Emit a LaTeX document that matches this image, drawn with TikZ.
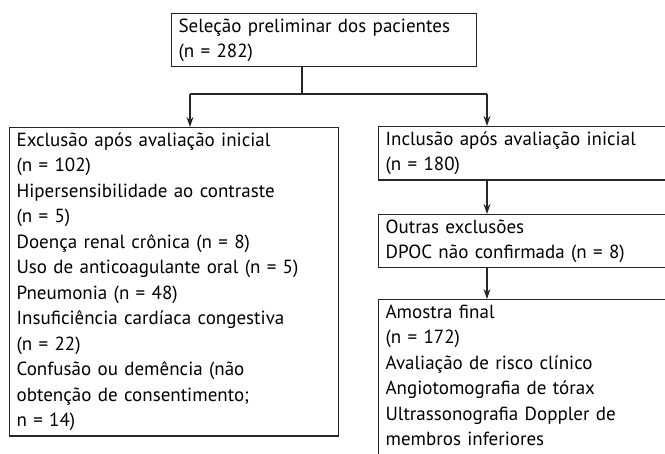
\documentclass[tikz,border=0pt]{standalone}
\usepackage{fontspec}
\setmainfont{PT Sans}[WordSpace=1.3]
\usetikzlibrary{arrows.meta}

\tikzset{
  box/.style={draw=black!85, line width=1.2pt, anchor=north west, align=left,
    inner xsep=7pt, inner ysep=5pt, font=\fontsize{19}{25.5}\selectfont},
  link/.style={line width=1.2pt, draw=black!85},
  flow/.style={link, -{Stealth[length=10pt,width=7pt]}}
}

\begin{document}
\begin{tikzpicture}[x=1pt,y=1pt]

  \useasboundingbox (0,0) rectangle (665,-454);
  \clip (0,0) rectangle (665,-454);

  % boxes
  \node[box, text width=291pt] (sel)   at (171,-13)  {Seleção preliminar dos pacientes\\(n = 282)};
  \node[box, text width=315pt] (excl)  at (9,-127)   {Exclusão após avaliação inicial\\(n = 102)\\Hipersensibilidade ao contraste\\(n = 5)\\Doença renal crônica (n = 8)\\Uso de anticoagulante oral (n = 5)\\Pneumonia (n = 48)\\Insuficiência cardíaca congestiva\\(n = 22)\\Confusão ou demência (não\\obtenção de consentimento;\\n = 14)};
  % right column runs off the page
  \node[box, text width=400pt] (incl)  at (378,-126) {Inclusão após avaliação inicial\\(n = 180)};
  \node[box, text width=400pt] (outr)  at (378,-214) {Outras exclusões\\DPOC não confirmada (n = 8)};
  \node[box, text width=400pt] (final) at (378,-299) {Amostra final\\(n = 172)\\Avaliação de risco clínico\\Angiotomografia de tórax\\Ultrassonografia Doppler de\\membros inferiores\rule[-20pt]{0pt}{20pt}};

  % split below the first box
  \coordinate (bus) at (302,-94);
  \coordinate (lb)  at (190,-94);
  \coordinate (rb)  at (487,-94);

  \draw[link] (bus |- sel.south) -- (bus);
  \draw[link] (lb) -- (rb);
  \draw[flow] (lb) -- (lb |- excl.north);
  \draw[flow] (rb) -- (rb |- incl.north);

  \draw[flow] (incl.south -| rb) -- (outr.north -| rb);
  \draw[flow] (outr.south -| rb) -- (final.north -| rb);

\end{tikzpicture}
\end{document}
